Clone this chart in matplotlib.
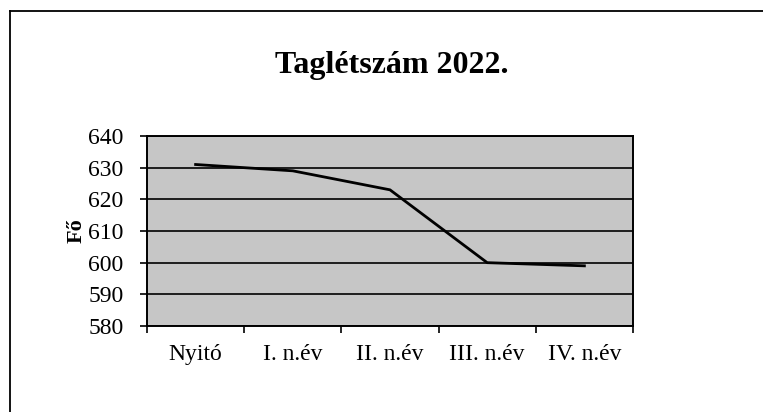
import matplotlib.pyplot as plt
from matplotlib.lines import Line2D

categories = ["Nyitó", "I. n.év", "II. n.év", "III. n.év", "IV. n.év"]
letszam = [631, 629, 623, 600, 599]
yticks = [580, 590, 600, 610, 620, 630, 640]

plt.rcParams['font.family'] = ['Liberation Serif', 'DejaVu Serif']

fig = plt.figure(figsize=(7.63, 4.12), dpi=100)
ax = fig.add_axes([147 / 763, 1 - 326 / 412, 486 / 763, 190 / 412])

ax.set_facecolor("#c6c6c6")
x = list(range(len(categories)))
ax.plot(x, letszam, color="black", lw=2.0, zorder=3)

ax.set_ylim(580, 640)
ax.set_yticks(yticks)
ax.set_yticklabels([str(v) for v in yticks], fontsize=17)
ax.yaxis.grid(True, color="black", lw=1.2)
ax.set_axisbelow(True)

ax.set_xlim(-0.5, len(categories) - 0.5)
ax.set_xticks([i - 0.5 for i in range(len(categories) + 1)])
ax.set_xticklabels([])
ax.set_xticks(x, minor=True)
ax.set_xticklabels(categories, minor=True, fontsize=17)
ax.tick_params(axis="x", which="minor", length=0, pad=13)
ax.tick_params(axis="x", which="major", length=5, width=1.2, direction="out")
ax.tick_params(axis="y", length=5, width=1.2, direction="out", pad=12)

for s in ax.spines.values():
    s.set_linewidth(1.4)

ax.set_ylabel("Fő", fontsize=16, fontweight="bold", labelpad=1)
fig.text(392 / 763, 1 - 66 / 412, "Taglétszám 2022.", ha="center", va="center",
         fontsize=23, fontweight="bold")

# outer frame of the scanned chart
fig.add_artist(Line2D([10 / 763, 10 / 763], [0, 1 - 11 / 412], color="black", lw=1.3))
fig.add_artist(Line2D([10 / 763, 1], [1 - 11 / 412, 1 - 11 / 412], color="black", lw=1.3))

fig.savefig("out.png", dpi=100, facecolor="white")
